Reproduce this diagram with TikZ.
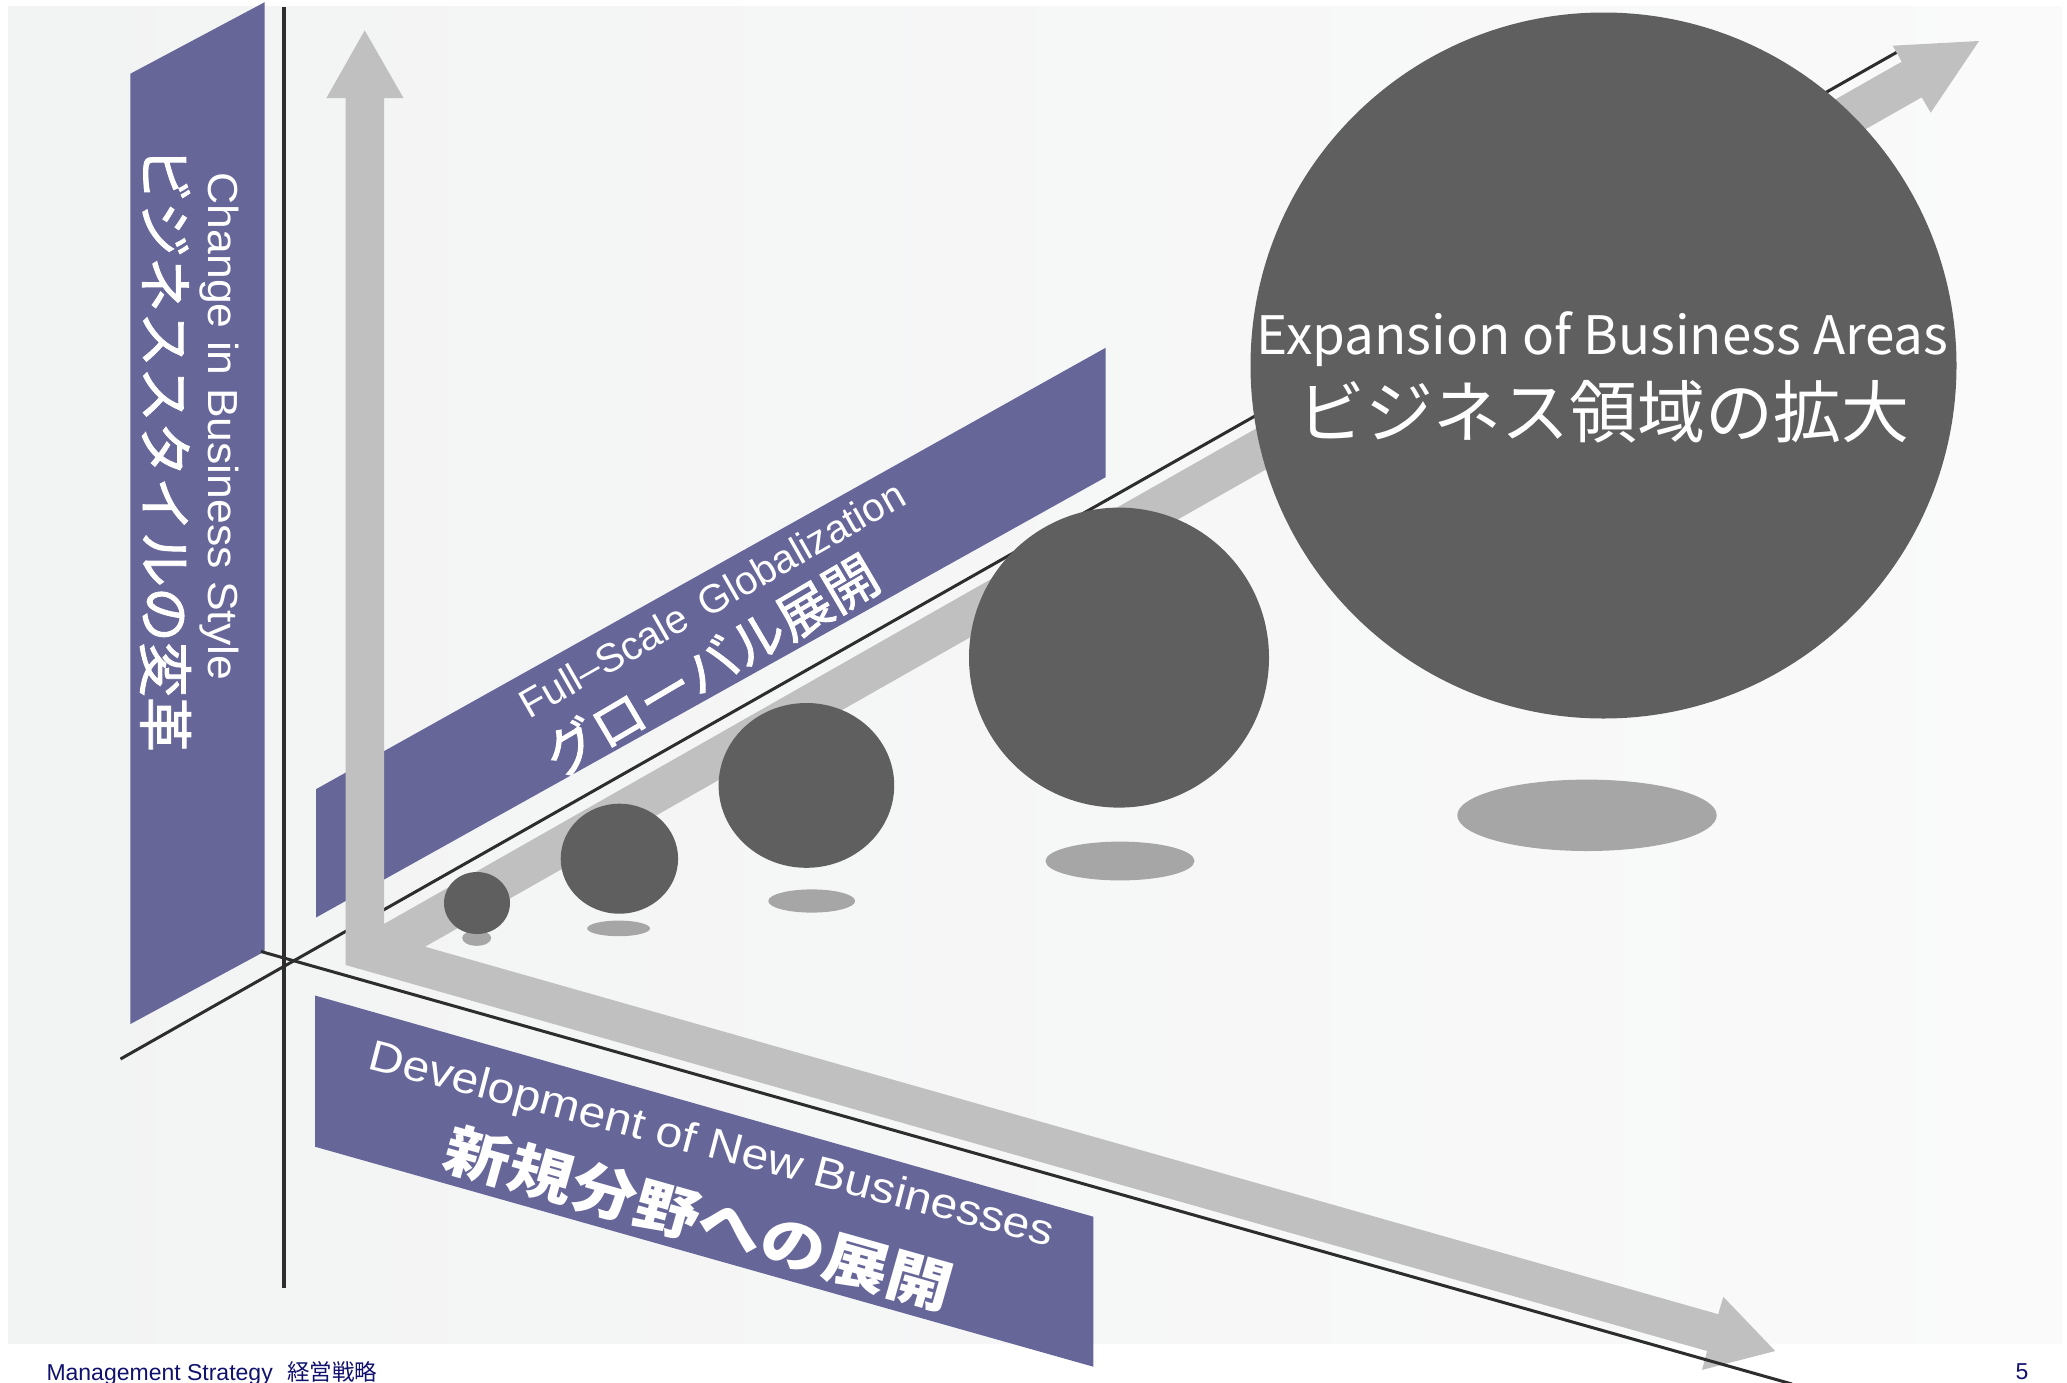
\documentclass[tikz,border=0pt]{standalone}
\usepackage{fontspec}
\usepackage{graphicx}
\setmainfont{Liberation Sans}
\newfontfamily\cjk{Noto Sans CJK JP}
\newfontfamily\cjkmed[FakeBold=1.6]{Noto Sans CJK JP}
\definecolor{panel}{RGB}{102,102,153}
\definecolor{ball}{RGB}{95,95,95}
\definecolor{shadowc}{RGB}{166,166,166}
\definecolor{arrowc}{RGB}{192,192,192}
\definecolor{axisc}{RGB}{45,45,45}
\definecolor{navy}{RGB}{17,17,110}
\definecolor{bgl}{RGB}{242,243,243}
\definecolor{bgr}{RGB}{250,250,251}
\begin{document}
\begin{tikzpicture}[x=1pt,y=-1pt,
  lbl/.style={inner sep=0pt,outer sep=0pt,text=white},
  axisline/.style={draw=axisc,line width=3.2pt},
  panelbox/.style={fill=panel},
  ballfill/.style={fill=ball},
  shadowfill/.style={fill=shadowc},
  foot/.style={inner sep=0pt,outer sep=0pt,text=navy}]
\useasboundingbox (0,0) rectangle (2067,1382);
\fill[white] (0,0) rectangle (2067,1382);
\shade[left color=bgl,right color=bgr] (8,6) rectangle (2062,1343);

% panels
\fill[panelbox] (130.4,73.7) -- (264.7,2.2) -- (264.7,951.4) -- (130.4,1024) -- cycle;
\fill[panelbox] (316,789.2) -- (1105.6,347.8) -- (1105.6,477.2) -- (316,917.5) -- cycle;
\fill[panelbox] (315,995.5) -- (1093.3,1216.7) -- (1093.3,1366.7) -- (315,1146.7) -- cycle;

% axis lines
\coordinate (vtop) at (284,7);
\coordinate (vbot) at (284,1288);
\coordinate (l1a) at (120.5,1059);
\coordinate (l1b) at (1896.7,52.3);
\coordinate (l2a) at (261,951.5);
\coordinate (l2b) at (1792,1384);
\draw[axisline] (vtop) -- (vbot);
\draw[axisline,line width=3pt] (l1a) -- (l1b);

% gray arrows
\fill[arrowc] (364.7,30.4) -- (403.6,98.2) -- (384,98.2) -- (384,924)
  -- (1901.7,61.7) -- (1892.7,45.7) -- (1979,41) -- (1930.7,112.7) -- (1921.7,97.3)
  -- (425,946.7)
  -- (1718.2,1314.2) -- (1723.3,1296.8) -- (1775.2,1351) -- (1702,1369.9) -- (1707.1,1351)
  -- (345.7,965) -- (345.7,98.2) -- (326.3,98.2) -- cycle;

\draw[axisline,line width=3pt] (l2a) -- (l2b);

% shadows
\fill[shadowfill] (476.7,938) ellipse [x radius=14.5, y radius=7.8];
\fill[shadowfill] (618.6,928.4) ellipse [x radius=31.4, y radius=7.8];
\fill[shadowfill] (811.7,901) ellipse [x radius=43.4, y radius=11.6];
\fill[shadowfill] (1120,861) ellipse [x radius=74.5, y radius=19.4];
\fill[shadowfill] (1587,815.3) ellipse [x radius=129.7, y radius=35.7];

% balls
\fill[ballfill] (477,903) ellipse [x radius=33, y radius=31];
\fill[ballfill] (619.4,858.7) ellipse [x radius=58.7, y radius=55];
\fill[ballfill] (806.4,785.4) ellipse [x radius=87.8, y radius=82.4];
\fill[ballfill] (1119,657.6) ellipse [x radius=150, y radius=150];
\fill[ballfill] (1603.5,365.5) ellipse [x radius=353, y radius=353];

% texts
\node[lbl,rotate=-90] (leftEN) at (219,426.5)
  {\fontsize{42}{48}\selectfont\scalebox{1.06}[1]{Change in Business Style}};
\node[lbl,rotate=-90] (leftJP) at (165.5,449.5)
  {\fontsize{55}{60}\selectfont\cjkmed ビジネススタイルの変革};
\node[lbl,rotate=29.7] (midEN) at (712,599)
  {\fontsize{40}{46}\selectfont Full–Scale\hspace{0.45em}Globalization};
\node[lbl,rotate=30.5] (midJP) at (711,665)
  {\fontsize{54}{60}\selectfont\cjkmed グローバル展開};
\node[lbl,rotate=-14.6] (botEN) at (711.2,1146.7)
  {\fontsize{43}{48}\selectfont\scalebox{1.12}[1]{Development of New Businesses}};
\node[lbl,rotate=-15.8] (botJP) at (699,1218.5)
  {\fontsize{57}{62}\selectfont\scalebox{1.15}[1]{\cjk\bfseries 新規分野への展開}};
\node[lbl] (bigEN) at (1602.5,339)
  {\fontsize{53}{60}\selectfont\cjk Expansion of Business Areas};
\node[lbl] (bigJP) at (1603.5,412)
  {\fontsize{68}{72}\selectfont\cjk ビジネス領域の拡大};

% footer
\node[foot,anchor=base west] (footEN) at (46.5,1380)
  {\fontsize{23}{26}\selectfont Management Strategy};
\node[foot,anchor=base west] (footJP) at (287,1380)
  {\fontsize{22.5}{26}\selectfont\cjk 経営戦略};
\node[foot,anchor=base] (pageno) at (2022,1379)
  {\fontsize{23}{26}\selectfont 5};
\end{tikzpicture}
\end{document}
